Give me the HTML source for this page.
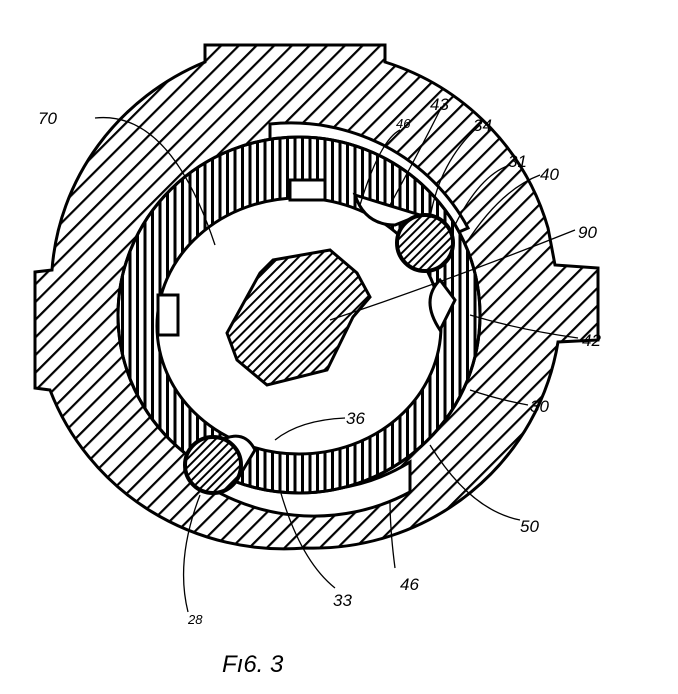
<!DOCTYPE html><html><head><style>body{margin:0;background:#fff}svg{display:block}text{font-family:"Liberation Sans",sans-serif;font-style:italic}</style></head><body>
<svg width="678" height="694" viewBox="0 0 678 694" xmlns="http://www.w3.org/2000/svg">
<defs>
<pattern id="d" width="12.5" height="12.5" patternUnits="userSpaceOnUse" patternTransform="rotate(45)"><rect x="0" y="0" width="2.2" height="12.5" fill="#000"/></pattern>
<pattern id="v" width="7.5" height="10" patternUnits="userSpaceOnUse"><rect x="1" y="0" width="3" height="10" fill="#000"/></pattern>
<pattern id="s" width="7" height="7" patternUnits="userSpaceOnUse" patternTransform="rotate(45)"><rect x="0" y="0" width="2" height="7" fill="#000"/></pattern>
<pattern id="r" width="6" height="6" patternUnits="userSpaceOnUse" patternTransform="rotate(45)"><rect x="0" y="0" width="2" height="6" fill="#000"/></pattern>
</defs>
<g stroke="#000" stroke-width="3">
<path d="M205,62 L205,45 L385,45 L385,62 A248,245 0 0 1 548,228 L555,265 L598,268 L598,340 L558,342 A248,245 0 0 1 305,548 A250,245 0 0 1 50,390 L35,388 L35,272 L52,270 A252,245 0 0 1 205,62 Z" fill="url(#d)"/>
<path d="M270,140 L270,124 A200,196 0 0 1 468,228 L450,236 A185,180 0 0 0 270,140 Z" fill="#fff"/>
<path d="M185,470 A200,196 0 0 0 410,492 L410,462 A185,180 0 0 1 200,455 Z" fill="#fff"/>
<ellipse cx="299" cy="315" rx="181" ry="178" fill="#fff"/>
<ellipse cx="299" cy="315" rx="181" ry="178" fill="url(#v)"/>
<ellipse cx="299" cy="326" rx="142" ry="128" fill="#fff"/>
<rect x="290" y="180" width="35" height="20" fill="#fff"/>
<rect x="158" y="295" width="20" height="40" fill="#fff"/>
<path d="M355,195 Q365,225 395,225 L420,215 Z" fill="#fff"/>
<path d="M440,280 Q420,300 440,330 L455,300 Z" fill="#fff"/>
<path d="M200,455 Q240,420 255,450 L240,475 Z" fill="#fff"/>
<polygon points="273,260 330,250 357,273 370,297 353,317 327,370 267,385 237,360 227,333 260,273" fill="url(#s)"/>
</g>
<circle cx="425" cy="243" r="28" fill="#fff" stroke="#000" stroke-width="4"/>
<circle cx="425" cy="243" r="27" fill="url(#r)"/>
<circle cx="213" cy="465" r="28" fill="#fff" stroke="#000" stroke-width="4"/>
<circle cx="213" cy="465" r="27" fill="url(#r)"/>
<g fill="none" stroke="#000" stroke-width="1.3">
<path d="M95,118 Q170,110 215,245"/><path d="M400,130 Q380,140 360,205"/><path d="M440,110 Q420,150 390,205"/>
<path d="M480,125 Q440,160 430,218"/><path d="M510,165 Q480,175 455,225"/><path d="M540,175 Q500,190 465,245"/>
<path d="M575,230 Q450,280 330,320"/><path d="M578,338 Q520,330 470,315"/><path d="M528,405 Q500,400 470,390"/>
<path d="M520,520 Q470,510 430,445"/><path d="M345,418 Q300,420 275,440"/><path d="M395,568 Q390,530 390,500"/>
<path d="M335,588 Q300,560 280,490"/><path d="M188,612 Q175,560 200,495"/>
</g>
<g style="font-size:17px">
<text x="38" y="124">70</text><text x="396" y="128" style="font-size:13px">46</text><text x="430" y="110">43</text>
<text x="473" y="131">34</text><text x="508" y="167">31</text><text x="540" y="180">40</text>
<text x="578" y="238">90</text><text x="582" y="346">42</text><text x="530" y="412">30</text>
<text x="520" y="532">50</text><text x="346" y="424">36</text><text x="400" y="590">46</text>
<text x="333" y="606">33</text><text x="188" y="624" style="font-size:13px">28</text>
<text x="222" y="672" style="font-size:24px">Fı6. 3</text>
</g>
</svg></body></html>
